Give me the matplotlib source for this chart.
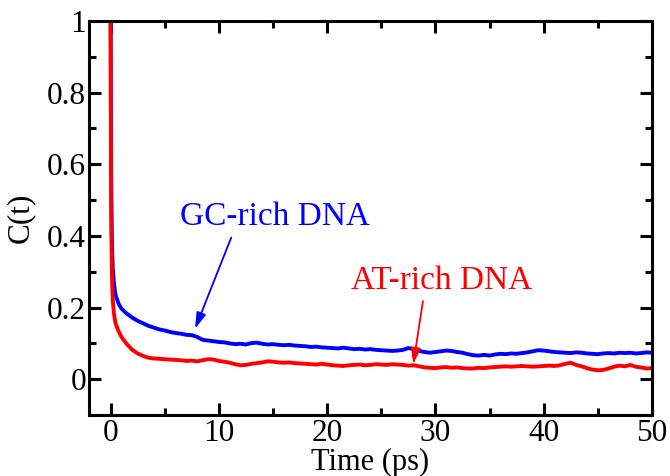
import numpy as np
import matplotlib
matplotlib.use("Agg")
import matplotlib.pyplot as plt

plt.rcParams['font.family'] = ['Liberation Serif', 'DejaVu Serif']

# sample times (ps): a dense start, then every 0.5 ps
time_early = [0.0, 0.02, 0.05, 0.1, 0.15, 0.2, 0.3, 0.4, 0.5, 0.75, 1.0]
time_late = np.arange(1.5, 50.01, 0.5)
time_ps = np.concatenate([time_early, time_late])

# C(t)
gc_rich = [1.0, 0.80, 0.58, 0.42, 0.35, 0.31, 0.27, 0.245, 0.23, 0.21, 0.197,
           0.183, 0.172, 0.163, 0.156, 0.149, 0.144, 0.139, 0.136, 0.132, 0.129,
           0.127, 0.124, 0.123, 0.118, 0.110, 0.108, 0.106, 0.104, 0.103, 0.100,
           0.098, 0.099, 0.097, 0.101, 0.102, 0.099, 0.097, 0.098, 0.096, 0.095,
           0.096, 0.094, 0.093, 0.092, 0.090, 0.091, 0.089, 0.088, 0.087, 0.086,
           0.088, 0.086, 0.084, 0.085, 0.083, 0.084, 0.082, 0.081, 0.080, 0.079,
           0.080, 0.082, 0.087, 0.084, 0.079, 0.076, 0.074, 0.076, 0.078, 0.080,
           0.079, 0.076, 0.074, 0.070, 0.067, 0.066, 0.068, 0.066, 0.069, 0.071,
           0.070, 0.072, 0.071, 0.073, 0.075, 0.078, 0.081, 0.080, 0.078, 0.076,
           0.075, 0.074, 0.073, 0.075, 0.074, 0.072, 0.071, 0.070, 0.072, 0.073,
           0.072, 0.074, 0.073, 0.074, 0.072, 0.073, 0.075, 0.074]

at_rich = [1.0, 0.72, 0.48, 0.33, 0.26, 0.22, 0.185, 0.165, 0.152, 0.133, 0.118,
           0.098, 0.082, 0.072, 0.065, 0.060, 0.058, 0.057, 0.056, 0.055, 0.054,
           0.053, 0.051, 0.052, 0.050, 0.053, 0.056, 0.055, 0.051, 0.049, 0.046,
           0.042, 0.039, 0.040, 0.043, 0.045, 0.047, 0.050, 0.049, 0.047, 0.046,
           0.047, 0.045, 0.044, 0.043, 0.042, 0.041, 0.043, 0.041, 0.039, 0.038,
           0.037, 0.039, 0.040, 0.041, 0.039, 0.040, 0.042, 0.041, 0.040, 0.042,
           0.041, 0.040, 0.038, 0.039, 0.036, 0.033, 0.032, 0.031, 0.033, 0.034,
           0.032, 0.033, 0.031, 0.030, 0.030, 0.032, 0.031, 0.033, 0.034, 0.035,
           0.036, 0.035, 0.036, 0.037, 0.036, 0.035, 0.036, 0.037, 0.038, 0.037,
           0.039, 0.043, 0.046, 0.040, 0.036, 0.031, 0.027, 0.025, 0.026, 0.030,
           0.035, 0.038, 0.036, 0.040, 0.035, 0.033, 0.030, 0.031]

x_ticks = [0, 10, 20, 30, 40, 50]
y_ticks = [0, 0.2, 0.4, 0.6, 0.8, 1]
y_tick_labels = ['0', '0.2', '0.4', '0.6', '0.8', '1']


def main():
    fig = plt.figure(figsize=(6.7, 4.76), dpi=100)
    ax = fig.add_axes([0.1328, 0.128, 0.8402, 0.828])

    ax.plot(time_ps, gc_rich, color='#0000ff', lw=2.8)
    ax.plot(time_ps, at_rich, color='#ff0000', lw=2.8)

    ax.set_xlim(-2, 50)
    ax.set_ylim(-0.1, 1.0)
    ax.set_xticks(x_ticks)
    ax.set_xticks(np.arange(5, 50, 10), minor=True)
    ax.set_yticks(y_ticks)
    ax.set_yticklabels(y_tick_labels)
    ax.set_yticks([-0.1, 0.1, 0.3, 0.5, 0.7, 0.9], minor=True)

    ax.tick_params(axis='both', which='both', direction='in', top=True, right=True,
                   labelsize=22.5, width=2.2)
    ax.tick_params(axis='both', which='major', length=8.5)
    ax.tick_params(axis='both', which='minor', length=5)
    ax.tick_params(axis='x', pad=3)
    ax.tick_params(axis='y', pad=2)
    for sp in ax.spines.values():
        sp.set_linewidth(2.2)

    ax.set_xlabel('Time (ps)', fontsize=22, labelpad=0)
    ax.set_ylabel('C(t)', fontsize=22.5, labelpad=9)

    ax.annotate('GC-rich DNA', xy=(7.8, 0.141), xytext=(15.2, 0.453),
                color='#0000ff', fontsize=24, ha='center', va='center',
                arrowprops=dict(arrowstyle='-|>,head_length=0.4,head_width=0.12',
                                color='#0000ff', lw=1.3, relpos=(0.28, 0.0),
                                shrinkA=2, shrinkB=0))
    ax.annotate('AT-rich DNA', xy=(27.96, 0.042), xytext=(30.6, 0.276),
                color='#ff0000', fontsize=24, ha='center', va='center',
                arrowprops=dict(arrowstyle='-|>,head_length=0.4,head_width=0.12',
                                color='#ff0000', lw=1.3, relpos=(0.4, 0.0),
                                shrinkA=2, shrinkB=0))

    fig.savefig('out.png', dpi=100)


if __name__ == "__main__":
    main()
